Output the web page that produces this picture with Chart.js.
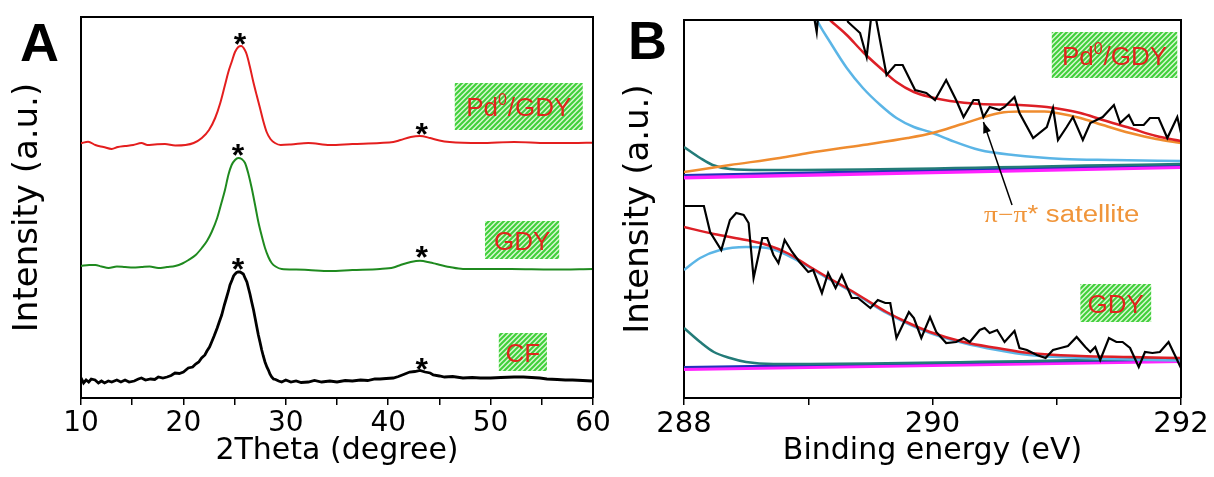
<!DOCTYPE html>
<html>
<head>
<meta charset="utf-8">
<script src="https://cdn.jsdelivr.net/npm/chart.js@4.4.1/dist/chart.umd.min.js"></script>
<style>
  html, body { margin: 0; padding: 0; background: #fff; }
  #xrdChart { position: absolute; left: 0; top: 0; }
  #xpsChart { position: absolute; left: 614px; top: 0; }
</style>
</head>
<body>
<canvas id="xrdChart" width="614" height="477"></canvas>
<canvas id="xpsChart" width="600" height="477"></canvas>
<script>
// ---- panel A: XRD patterns, [2theta, offset intensity] ----
const xrdPdGdy = [
  [10.0,254.7],[10.7,256.3],[11.4,253],[12.2,251],[13.0,249],[13.6,251],[14.3,252],[15.1,253],[15.9,255],
  [16.5,253],[17.2,253.5],[18.2,254],[19.2,252.5],[20.2,253],[21.0,255],[21.8,260],[22.5,268],[23.1,280],
  [23.6,295],[24.06,313],[24.39,326],[24.71,336],[25.04,346],[25.36,351],[25.65,352],[26.0,348],[26.2,343],
  [26.5,331],[26.83,316],[27.15,303],[27.48,290],[27.8,277],[28.13,266],[28.5,259],[28.94,255],[29.5,253],
  [30.5,253.5],[32.2,255],[34.3,253],[36.5,254],[39.2,255],[40.5,256],[41.2,258],[42.2,261],[43.1,262],
  [44.1,260],[45.0,257.5],[46.0,256],[49.0,255],[52.3,256],[55.5,255],[58.0,255],[60.0,255.3]
];
const xrdGdy = [
  [10.0,132],[10.8,133],[11.4,133],[12.0,131.5],[12.7,130],[13.5,131.5],[14.3,131],[15.1,130.5],[15.9,131],
  [16.7,131.5],[17.55,130],[18.4,131],[19.2,132],[19.9,134.5],[20.5,138],[21.2,143],[21.8,150],[22.3,157],
  [22.76,166],[23.3,180],[23.74,196],[24.06,208],[24.39,223],[24.71,233],[25.04,238],[25.36,240],[25.69,239],
  [26.02,235],[26.35,224],[26.67,210],[27.0,193],[27.32,176],[27.65,162],[27.97,150],[28.3,141],[28.62,135],
  [29.0,131.5],[29.6,129],[31.0,128.5],[32.2,128],[34.3,127],[36.5,128],[39.2,129],[40.5,130.5],[41.2,133],
  [42.2,136],[43.1,137.3],[44.1,135.5],[44.7,134],[46.0,131],[47.3,129],[50.0,129],[52.0,129],[56.0,128.5],[60.0,129]
];
const xrdCf = [
  [10.0,20],[10.25,15],[10.5,18],[10.75,16],[11.0,19],[11.37,18],[11.7,15],[12.0,17],[12.3,15],[12.67,17],
  [13.0,16],[13.5,18],[13.9,16],[14.3,18],[14.7,16],[15.2,17],[15.6,19],[15.9,20],[16.3,18],[16.8,19],
  [17.2,18.5],[17.55,21],[18.0,20],[18.4,21],[18.8,22.5],[19.18,25],[19.6,24.5],[20.0,26],[20.48,30],[20.9,31],
  [21.2,34],[21.5,36],[21.78,40],[22.1,43],[22.3,47],[22.55,51],[22.76,56],[23.0,62],[23.3,70],[23.5,76],
  [23.74,83],[24.0,93],[24.2,100],[24.4,107],[24.55,113],[24.75,118],[24.9,122],[25.05,124],[25.2,125.5],
  [25.35,126],[25.53,126],[25.7,125],[25.85,124],[26.02,120],[26.2,116],[26.35,110],[26.5,104],[26.67,96],
  [26.85,88],[27.0,80],[27.15,72],[27.32,63],[27.5,55],[27.65,48],[27.8,42],[27.97,36],[28.15,31],[28.3,28],
  [28.45,24],[28.62,21],[28.8,19],[29.0,18.5],[29.3,17],[29.6,16],[30.0,18],[30.5,16],[31.0,17],[31.5,15.5],
  [32.2,16],[32.8,17.5],[33.5,16],[34.3,17],[35.0,16],[35.8,17.5],[36.5,17],[37.3,18],[38.0,17.5],[38.7,19],
  [39.2,19],[39.8,19.5],[40.5,20],[41.0,21.5],[41.5,23.5],[42.1,26],[42.6,26.5],[43.1,27.5],[43.6,26],
  [44.1,25],[44.4,23],[45.0,22],[45.5,21],[46.3,21.5],[47.3,20],[48.2,20.5],[49.0,20],[50.0,20],[51.0,20.5],
  [52.3,21],[53.2,21],[54.0,20.5],[54.8,20],[55.5,19],[56.5,18.5],[57.3,18],[58.0,18],[59.0,17.5],[59.9,17]
];
const xrdStars = [[25.53,361],[43.27,271],[25.33,250],[43.27,148],[25.33,136],[43.27,36]];
const xrdTicks = [10, 20, 30, 40, 50, 60];

// ---- panel B: C 1s region, [binding energy, offset intensity] ----
const xpsPdRaw = [
  [288.97,437],[289.054,375],[289.068,365],[289.087,392],[289.215,417],[289.32,375],[289.417,364],[289.47,340],
  [289.52,395],[289.63,322],[289.70,332],[289.76,332],[289.86,307],[289.95,304],[290.02,297],[290.11,317],
  [290.19,297],[290.25,280],[290.33,297],[290.37,297],[290.41,280],[290.46,290],[290.54,287],[290.58,290],
  [290.66,300],[290.70,284],[290.81,259],[290.92,270],[290.97,289],[291.01,257],[291.08,270],[291.13,280],
  [291.21,257],[291.27,274],[291.37,280],[291.46,292],[291.51,274],[291.58,282],[291.62,272],[291.70,272],
  [291.75,279],[291.82,279],[291.89,259],[291.97,280],[292.0,264]
];
const xpsPdEnvelope = [
  [288.9,420],[289.05,393],[289.175,377],[289.31,362],[289.44,345],[289.58,329],[289.71,315],[289.85,305],
  [289.98,300],[290.14,296],[290.38,293],[290.70,292],[290.92,290],[291.19,284],[291.37,277],[291.59,269],
  [291.80,261],[292.0,256]
];
const xpsPdMain = [
  [288.9,430],[289.07,377],[289.175,355],[289.31,329],[289.44,309],[289.58,292],[289.71,279],[289.85,270],
  [289.98,265],[290.14,257],[290.38,247],[290.65,242],[291.05,238],[291.45,237],[292.0,236]
];
const xpsPdSatellite = [
  [288.0,225],[288.37,232],[288.77,239],[289.0,244],[289.44,252],[289.8,259],[290.0,264],[290.24,273],
  [290.54,284],[290.7,285.5],[290.9,285.5],[291.0,284],[291.19,279],[291.37,272],[291.59,264],[291.80,258],[292.0,254]
];
const xpsPdTail = [[288.0,250],[288.13,239],[288.23,232],[288.37,228],[288.64,227],[292.0,233]];
const xpsPdBase = [[288.0,222],[292.0,232]];
const xpsPdBase2 = [[288.0,219.5],[292.0,230]];

const xpsGdyRaw = [
  [288.00,191],[288.16,191],[288.21,165],[288.30,147],[288.37,177],[288.42,184],[288.48,182],[288.52,174],
  [288.56,119],[288.63,159],[288.67,159],[288.72,142],[288.76,134],[288.81,157],[288.87,145],[288.93,135],
  [289.00,125],[289.04,127],[289.11,104],[289.16,124],[289.22,109],[289.27,122],[289.35,99],[289.40,99],
  [289.50,89],[289.56,97],[289.62,94],[289.66,94],[289.71,59],[289.81,85],[289.85,79],[289.91,59],
  [289.98,80],[290.03,65],[290.11,54],[290.19,55],[290.25,59],[290.30,55],[290.38,67],[290.42,69],
  [290.46,64],[290.52,67],[290.58,55],[290.66,66],[290.70,49],[290.76,47],[290.84,42],[290.91,39],
  [290.97,47],[291.03,49],[291.09,51],[291.16,60],[291.23,50],[291.27,45],[291.31,50],[291.35,37],
  [291.42,59],[291.48,55],[291.53,55],[291.59,49],[291.66,30],[291.71,45],[291.77,44],[291.83,45],
  [291.90,55],[291.95,42],[292.00,29]
];
const xpsGdyEnvelope = [
  [288.00,170],[288.24,163],[288.50,157],[288.67,152],[288.83,144],[288.99,132],[289.15,120],[289.31,109],
  [289.47,97],[289.63,85],[289.79,75],[289.98,65],[290.25,55],[290.52,49],[290.78,44],[291.19,41],[291.59,40],[292.00,39]
];
const xpsGdyMain = [
  [288.00,127],[288.13,139],[288.29,147],[288.50,150],[288.67,149],[288.83,142],[288.99,131],[289.15,119],
  [289.31,108],[289.47,96],[289.63,84],[289.79,74],[289.98,64],[290.25,54],[290.52,47],[290.78,42],
  [291.19,39],[291.59,37.5],[292.00,36.5]
];
const xpsGdyTail = [[288,69],[288.13,55],[288.24,45],[288.37,39],[288.50,35],[288.72,33],[292,38.5]];
const xpsGdyBase = [[288,30],[292,37.5]];
const xpsGdyBase2 = [[288,28],[292,36]];

const AXIS_FONT = "'DejaVu Sans', sans-serif";
const TAG_FONT = "'Liberation Sans', Arial, sans-serif";
Chart.defaults.color = '#000';

function trace(points, color, width, smooth) {
    return {
        data: points.map(p => ({ x: p[0], y: p[1] })),
        borderColor: color,
        borderWidth: width,
        pointRadius: 0,
        tension: 0,
        cubicInterpolationMode: smooth ? 'monotone' : 'default',
        fill: false
    };
}

function hatch(ctx) {
    const c = document.createElement('canvas');
    c.width = 5; c.height = 5;
    const g = c.getContext('2d');
    g.fillStyle = '#d6f8cf';
    g.fillRect(0, 0, 5, 5);
    g.strokeStyle = '#3fcf3a';
    g.lineWidth = 2;
    g.beginPath();
    g.moveTo(-1, 6); g.lineTo(6, -1);
    g.moveTo(-3.5, 3.5); g.lineTo(3.5, -3.5);
    g.moveTo(1.5, 8.5); g.lineTo(8.5, 1.5);
    g.stroke();
    return ctx.createPattern(c, 'repeat');
}

// frame, panel letter, sample tags, peak marks and the satellite note
const decoPlugin = {
    id: 'deco',
    afterDatasetsDraw(chart, args, opts) {
        const { ctx, chartArea: a } = chart;
        const xs = chart.scales.x, ys = chart.scales.y;
        ctx.save();
        ctx.strokeStyle = '#000';
        ctx.lineWidth = 2;
        ctx.beginPath();
        ctx.moveTo(a.left, a.top);
        ctx.lineTo(a.right, a.top);
        ctx.lineTo(a.right, a.bottom);
        ctx.stroke();

        ctx.fillStyle = '#000';
        ctx.textBaseline = 'alphabetic';
        ctx.font = 'bold 54px ' + TAG_FONT;
        ctx.textAlign = 'left';
        ctx.fillText(opts.letter, opts.letterAt[0], opts.letterAt[1]);

        ctx.font = 'bold 32px ' + TAG_FONT;
        ctx.textAlign = 'center';
        (opts.stars || []).forEach(s => {
            ctx.fillText('*', xs.getPixelForValue(s[0]), ys.getPixelForValue(s[1]) + 18);
        });

        const pat = hatch(ctx);
        opts.tags.forEach(t => {
            const l = xs.getPixelForValue(t.box[0]), r = xs.getPixelForValue(t.box[1]);
            const tp = ys.getPixelForValue(t.box[2]), bt = ys.getPixelForValue(t.box[3]);
            ctx.fillStyle = pat;
            ctx.fillRect(l, tp, r - l, bt - tp);
            ctx.fillStyle = '#e0241c';
            ctx.textAlign = 'left';
            const big = '26px ' + TAG_FONT, small = '16px ' + TAG_FONT;
            ctx.font = big;
            const w1 = ctx.measureText(t.main).width;
            const w3 = t.rest ? ctx.measureText(t.rest).width : 0;
            ctx.font = small;
            const w2 = t.sup ? ctx.measureText(t.sup).width + 1 : 0;
            let x0 = (l + r) / 2 - (w1 + w2 + w3) / 2;
            const base = (tp + bt) / 2 + 9.5;
            ctx.font = big;
            ctx.fillText(t.main, x0, base);
            if (t.sup) {
                ctx.font = small;
                ctx.fillText(t.sup, x0 + w1, base - 11);
                ctx.font = big;
                ctx.fillText(t.rest, x0 + w1 + w2, base);
            }
        });

        if (opts.note) {
            const n = opts.note;
            const ax0 = xs.getPixelForValue(n.arrow[0]), ay0 = ys.getPixelForValue(n.arrow[1]);
            const ax1 = xs.getPixelForValue(n.arrow[2]), ay1 = ys.getPixelForValue(n.arrow[3]);
            ctx.strokeStyle = '#000';
            ctx.fillStyle = '#000';
            ctx.lineWidth = 1.5;
            ctx.beginPath();
            ctx.moveTo(ax0, ay0);
            ctx.lineTo(ax1, ay1);
            ctx.stroke();
            const ang = Math.atan2(ay1 - ay0, ax1 - ax0);
            ctx.beginPath();
            ctx.moveTo(ax1, ay1);
            ctx.lineTo(ax1 - 11 * Math.cos(ang) + 4 * Math.sin(ang), ay1 - 11 * Math.sin(ang) - 4 * Math.cos(ang));
            ctx.lineTo(ax1 - 11 * Math.cos(ang) - 4 * Math.sin(ang), ay1 - 11 * Math.sin(ang) + 4 * Math.cos(ang));
            ctx.closePath();
            ctx.fill();

            ctx.fillStyle = '#f0953a';
            ctx.textAlign = 'left';
            ctx.translate(xs.getPixelForValue(n.at[0]), ys.getPixelForValue(n.at[1]));
            ctx.scale(1.2, 1);
            const serif = "23px 'Liberation Serif', serif", sans = '23px ' + TAG_FONT;
            ctx.font = serif;
            const wa = ctx.measureText(n.greek).width;
            ctx.font = sans;
            const wb = ctx.measureText(n.text).width;
            ctx.font = serif;
            ctx.fillText(n.greek, -(wa + wb) / 2, 0);
            ctx.font = sans;
            ctx.fillText(n.text, -(wa + wb) / 2 + wa, 0);
        }
        ctx.restore();
    }
};

function axes(xmin, xmax, ymin, ymax, xTitle, labelled, step, tickSize, yPad, yWidth) {
    return {
        x: {
            type: 'linear', min: xmin, max: xmax,
            ticks: {
                stepSize: step,
                autoSkip: false, maxRotation: 0, padding: 2,
                font: { family: AXIS_FONT, size: tickSize, lineHeight: 1.2 },
                color: '#000',
                callback: v => labelled.includes(v) ? String(v) : ''
            },
            grid: { display: true, drawOnChartArea: false, drawTicks: true, tickLength: 7, color: '#000', lineWidth: 1.5 },
            border: { display: true, color: '#000', width: 2 },
            title: { display: true, text: xTitle, color: '#000', padding: { top: 0, bottom: 8 },
                     font: { family: AXIS_FONT, size: 30, lineHeight: 1.2 } },
            afterFit: s => { s.height = 79; }
        },
        y: {
            min: ymin, max: ymax,
            ticks: { display: false },
            grid: { display: false },
            border: { display: true, color: '#000', width: 2 },
            title: { display: true, text: 'Intensity (a.u.)', color: '#000', padding: { top: yPad, bottom: 0 },
                     font: { family: AXIS_FONT, size: 34, lineHeight: 1.2 } },
            afterFit: s => { s.width = yWidth; }
        }
    };
}

const common = {
    responsive: false,
    animation: false,
    events: [],
    plugins: { legend: { display: false }, tooltip: { enabled: false } }
};

new Chart(document.getElementById('xrdChart').getContext('2d'), {
    type: 'line',
    data: {
        datasets: [
            trace(xrdPdGdy, '#e41e1e', 2, true),
            trace(xrdGdy, '#1f8a1f', 2, true),
            trace(xrdCf, '#000000', 2.8, false)
        ]
    },
    options: Object.assign({}, common, {
        layout: { padding: { top: 17, right: 21, left: 0, bottom: 0 } },
        scales: axes(10, 60, 0, 381, '2Theta (degree)', xrdTicks, 5, 28, 8, 81),
        plugins: Object.assign({}, common.plugins, {
            deco: {
                letter: 'A', letterAt: [20, 61],
                stars: xrdStars,
                tags: [
                    { main: 'Pd', sup: '0', rest: '/GDY', box: [46.5, 59.0, 315, 268] },
                    { main: 'GDY', box: [49.45, 56.7, 177, 139] },
                    { main: 'CF', box: [50.8, 55.5, 65, 27] }
                ]
            }
        })
    }),
    plugins: [decoPlugin]
});

new Chart(document.getElementById('xpsChart').getContext('2d'), {
    type: 'line',
    data: {
        datasets: [
            trace(xpsPdRaw, '#000000', 2.2, false),
            trace(xpsGdyRaw, '#000000', 2.2, false),
            trace(xpsPdEnvelope, '#dd1f26', 2.5, true),
            trace(xpsGdyEnvelope, '#dd1f26', 2.5, true),
            trace(xpsPdSatellite, '#ef8c2f', 2.5, true),
            trace(xpsPdMain, '#5bb5e6', 2.5, true),
            trace(xpsGdyMain, '#5bb5e6', 2.5, true),
            trace(xpsPdTail, '#237b78', 2.5, true),
            trace(xpsGdyTail, '#237b78', 2.5, true),
            trace(xpsPdBase, '#2233bb', 2, false),
            trace(xpsGdyBase, '#2233bb', 2, false),
            trace(xpsPdBase2, '#ff22ff', 4, false),
            trace(xpsGdyBase2, '#ff22ff', 4, false)
        ]
    },
    options: Object.assign({}, common, {
        layout: { padding: { top: 20, right: 33, left: 0, bottom: 0 } },
        scales: axes(288, 292, -1, 377, 'Binding energy (eV)', [288, 290, 292], 1, 29, 5, 70),
        plugins: Object.assign({}, common.plugins, {
            deco: {
                letter: 'B', letterAt: [14, 59],
                tags: [
                    { main: 'Pd', sup: '0', rest: '/GDY', box: [290.96, 291.97, 365, 319] },
                    { main: 'GDY', box: [291.19, 291.76, 113, 75] }
                ],
                note: { greek: 'π−π', text: '* satellite', at: [291.04, 175], arrow: [290.64, 192, 290.41, 275] }
            }
        })
    }),
    plugins: [decoPlugin]
});
</script>
</body>
</html>
